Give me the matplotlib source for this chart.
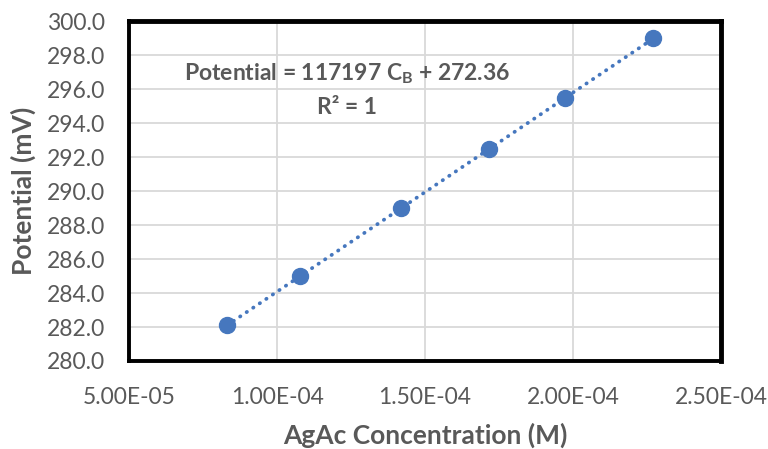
import matplotlib.pyplot as plt
import numpy as np

plt.rcParams['font.family'] = ['Lato', 'DejaVu Sans']
plt.rcParams['mathtext.fontset'] = 'custom'
plt.rcParams['mathtext.bf'] = 'Lato:bold'
plt.rcParams['mathtext.rm'] = 'Lato'

# Данные для графика
conc = [8.31e-5, 1.078e-4, 1.418e-4, 1.717e-4, 1.971e-4, 2.271e-4]
potential = [282.1, 285.0, 289.0, 292.5, 295.5, 299.0]
slope = 117197
intercept = 272.36

xticks = [5.0e-5, 1.0e-4, 1.5e-4, 2.0e-4, 2.5e-4]
xtick_labels = ['5.00E-05', '1.00E-04', '1.50E-04', '2.00E-04', '2.50E-04']
yticks = np.arange(280, 301, 2)

gray = '#595959'
blue = '#4677BE'

fig = plt.figure(figsize=(7.68, 4.49), dpi=100)
ax = fig.add_axes([0.168, 0.196, 0.771, 0.757])

# линия тренда
xt = np.array([conc[0], conc[-1]])
ax.plot(xt, slope * xt + intercept, color=blue, lw=2.7,
        linestyle=(0, (0.1, 2.0)), dash_capstyle='round', zorder=2)
ax.plot(conc, potential, 'o', color=blue, markersize=11.5, zorder=3)

ax.set_xlim(5.0e-5, 2.5e-4)
ax.set_ylim(280, 300)
ax.set_xticks(xticks)
ax.set_xticklabels(xtick_labels)
ax.set_yticks(yticks)
ax.set_yticklabels(['%.1f' % v for v in yticks])
ax.tick_params(length=0, labelsize=16.5, colors=gray)
ax.tick_params(axis='x', pad=19)
ax.tick_params(axis='y', pad=17)
ax.grid(color='#D9D9D9', lw=1.3)
ax.set_axisbelow(True)
for side, s in ax.spines.items():
    s.set_linewidth(3.5 if side in ('top', 'right') else 2.8)
    s.set_color('black')

ax.set_xlabel('AgAc Concentration (M)', fontsize=19, fontweight='bold',
              color=gray, labelpad=10)
ax.set_ylabel('Potential (mV)', fontsize=19, fontweight='bold',
              color=gray, labelpad=8)

ax.text(0.368, 0.847, r'Potential = 117197 C$_\mathbf{B}$ + 272.36',
        transform=ax.transAxes, ha='center', va='center',
        fontsize=16.5, fontweight='bold', color=gray)
ax.text(0.368, 0.747, 'R² = 1', transform=ax.transAxes,
        ha='center', va='center', fontsize=16.5, fontweight='bold', color=gray)

fig.savefig('out.png', dpi=100)
